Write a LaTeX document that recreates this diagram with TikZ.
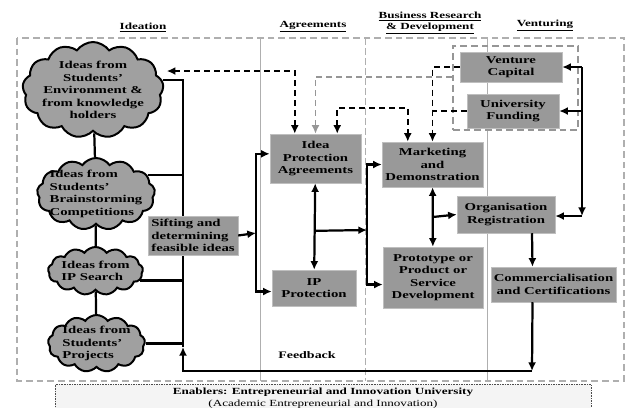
\documentclass[tikz,border=0pt]{standalone}
\usepackage{fontspec}
\setmainfont{Liberation Serif}[FakeStretch=1.4]
\usetikzlibrary{shapes.symbols, arrows.meta, positioning, calc}
\definecolor{boxgray}{RGB}{153, 153, 153}
\definecolor{cloudgray}{RGB}{160, 160, 160}
\definecolor{linegray}{RGB}{175, 175, 175}
\definecolor{dashgray}{RGB}{150, 150, 150}
\definecolor{enablerbg}{RGB}{244, 244, 244}
\tikzset{
  idea/.style={cloud, cloud puffs=13, cloud puff arc=110, cloud ignores aspect, draw=black,
    line width=1.7pt, fill=cloudgray, font=\fontsize{9}{10.7}\selectfont\bfseries,
    inner xsep=-7pt, inner ysep=-3pt},
  stage/.style={draw=black!25, fill=boxgray, font=\fontsize{9}{10.7}\selectfont\bfseries,
    align=center, inner sep=0pt},
  header/.style={font=\fontsize{8}{9.6}\selectfont\bfseries, align=center},
  tip/.tip={Latex[length=2.6mm, width=2.4mm]},
  link/.style={line width=1.9pt},
  flow/.style={link, -tip},
  twoway/.style={link, tip-tip},
  dashlink/.style={line width=1.5pt, dash pattern=on 1.8mm off 1.2mm},
  colline/.style={linegray, line width=0.6pt},
}

\begin{document}
\begin{tikzpicture}[x=0.03cm, y=-0.03cm]
  \useasboundingbox (0,0) rectangle (626,407);

  % Frame and columns
  \draw[colline, line width=0.9pt, dash pattern=on 2mm off 1.2mm] (17,38) rectangle (624,381);
  \draw[colline] (260,38) -- (260,381);
  \draw[colline, dash pattern=on 2mm off 1mm] (365,38) -- (365,381);
  \draw[colline] (487,38) -- (487,381);

  % Column headers
  \node[header] (hidea) at (143,27) {\underline{Ideation}};
  \node[header] (hagree) at (313,27) {\underline{Agreements}};
  \node[header] (hbrd) at (430,23) {\underline{Business Research}\\\underline{\& Development}};
  \node[header] (hvent) at (545,25) {\underline{Venturing}};

  % Sources of ideas
  \node[idea, align=center, minimum width=4.23cm, minimum height=2.88cm] (c1) at (93,90)
    {Ideas from\\Students'\\Environment \&\\from knowledge\\holders};
  \node[idea, align=left, minimum width=3.54cm, minimum height=2.16cm] (c2) at (96,194)
    {Ideas from\\Students'\\Brainstorming\\Competitions};
  \node[idea, align=left, minimum width=2.85cm, minimum height=1.44cm] (c3) at (95.5,271)
    {Ideas from\\IP Search};
  \node[idea, align=left, minimum width=2.91cm, minimum height=1.71cm] (c4) at (96.5,343.5)
    {Ideas from\\Students'\\Projects};
  \draw[link] (c1) -- (c2);
  \draw[link] (c2) -- (c3);
  \draw[link] (c3) -- (c4);

  % Bus into sifting
  \coordinate (busbot) at (183,347);
  \draw[link] (c1.8) -| (busbot);
  \draw[link] (c2.20) -- (c2.20 -| busbot);
  \draw[link] (c3.-12) -- (c3.-12 -| busbot);
  \draw[link] (c4.east) -- (c4.east -| busbot);
  \node[stage, align=left, minimum width=2.7cm, minimum height=1.17cm] (sift) at (193,235.5)
    {Sifting and\\determining\\feasible ideas};

  % Agreements
  \node[stage, minimum width=2.73cm, minimum height=1.47cm] (ipa) at (315.5,158.5)
    {Idea\\Protection\\Agreements};
  \node[stage, minimum width=2.52cm, minimum height=1.08cm] (ipp) at (314,288)
    {IP\\Protection};

  % Business research and development
  \node[stage, minimum width=3.03cm, minimum height=1.35cm] (mkt) at (432.5,164.5)
    {Marketing\\and\\Demonstration};
  \node[stage, minimum width=3.0cm, minimum height=1.83cm] (proto) at (433,277.5)
    {Prototype or\\Product or\\Service\\Development};

  % Venturing
  \node[draw=dashgray, line width=1.4pt, dash pattern=on 2mm off 1.2mm,
    minimum width=3.75cm, minimum height=2.52cm] (fund) at (515.5,88) {};
  \node[stage, minimum width=3.06cm, minimum height=0.9cm] (vc) at (511,67)
    {Venture\\Capital};
  \node[stage, minimum width=2.76cm, minimum height=1.02cm] (uf) at (513,111)
    {University\\Funding};
  \node[stage, minimum width=2.94cm, minimum height=1.11cm] (org) at (506,214.5)
    {Organisation\\Registration};
  \node[stage, minimum width=3.75cm, minimum height=1.05cm] (comm) at (553.5,284.5)
    {Commercialisation\\and Certifications};

  % Solid flows
  \coordinate (agrbus) at (256,233);
  \draw[flow] (sift.east) -- (agrbus);
  \draw[flow] (agrbus) |- ([yshift=4]ipa.west);
  \draw[flow] (agrbus) |- ([yshift=-3]ipp.west);
  \draw[twoway] (ipa) -- (ipp);
  \coordinate (rdbus) at (367,230);
  \draw[flow] ($(ipa.south)!0.55!(ipp.north)$) -- (rdbus);
  \draw[flow] (rdbus) |- (mkt.west);
  \draw[flow] (rdbus) |- ([yshift=-6]proto.west);
  \draw[twoway] (mkt) -- (proto);
  \draw[flow] ($(mkt.south)!0.5!(proto.north)$) -- (org.west);
  \draw[flow] ($(org.south)+(26,0)$) -- ($(comm.north)+(-21,0)$);
  \coordinate (vtop) at (582,67);
  \coordinate (vbot) at (582,216);
  \draw[flow] (vtop) -- (vbot);
  \draw[flow] (vbot) -- (vbot -| org.east);
  \draw[flow] (vtop) -- (vc.east);
  \draw[flow] (vtop |- uf.east) -- (uf.east);

  % Feedback loop
  \coordinate (fbcorner) at (532,371);
  \draw[flow] ($(comm.south)+(-21,0)$) -- (fbcorner);
  \draw[flow] (fbcorner) -| (busbot);
  \node[header, font=\fontsize{8.5}{10}\selectfont\bfseries] (fb) at (307,355) {Feedback};

  % Dashed links
  \draw[dashlink, tip-tip] ($(ipa.north west)+(25,0)$) |- ($(c1.east)+(3,-19)$);
  \draw[dashlink, dashgray, -tip] (fund.west |- 0,77) -| (ipa.north);
  \draw[dashlink, tip-tip] ($(ipa.north east)+(-24,0)$) |- ($(mkt.north west)+(26,-34)$)
    -- ($(mkt.north west)+(26,0)$);
  \draw[dashlink, -tip] (vc.west) -| (mkt.north);
  \draw[dashlink] (uf.west) -- (uf.west -| mkt.north);

  % Enablers
  \node[draw=black!70, densely dotted, fill=enablerbg, minimum width=16.08cm, minimum height=0.84cm,
    font=\fontsize{8}{10.2}\selectfont, align=center, inner sep=1pt] (enab) at (323,398)
    {\textbf{Enablers: Entrepreneurial and Innovation University}\\(Academic Entrepreneurial and Innovation)};
\end{tikzpicture}
\end{document}
